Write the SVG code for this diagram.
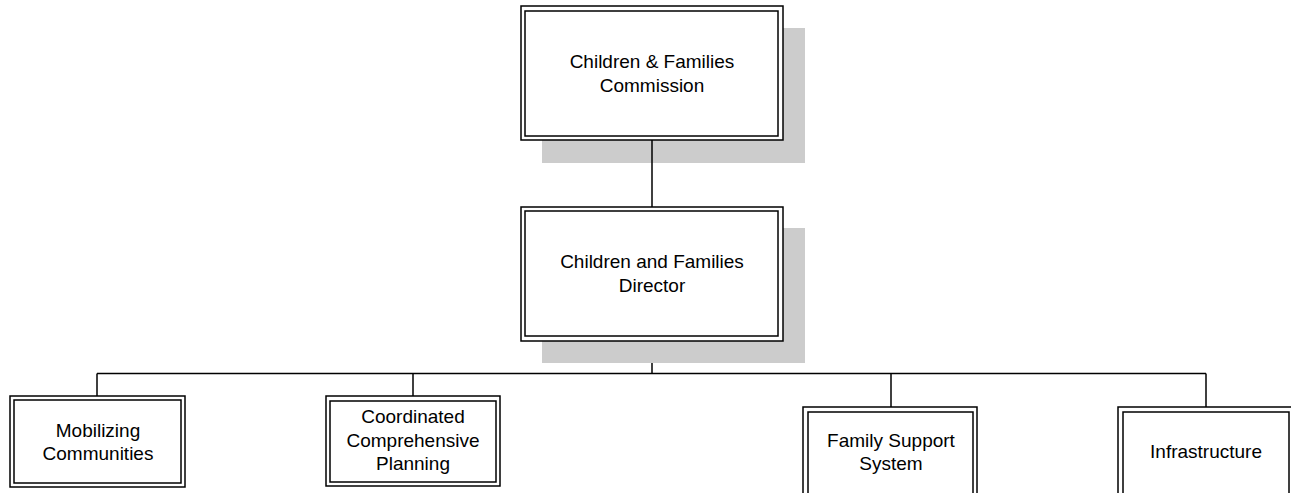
<svg xmlns="http://www.w3.org/2000/svg" width="1291" height="493" viewBox="0 0 1291 493">
<style>
.bg{fill:#ffffff}
.sh{fill:#cccccc;stroke:none}
.o{fill:#ffffff;stroke:#000000;stroke-width:1.5}
.i{fill:none;stroke:#000000;stroke-width:1.5}
.c{fill:none;stroke:#000000;stroke-width:1.5}
text{font-family:"Liberation Sans",Arial,sans-serif;font-size:19px;fill:#000000;text-anchor:middle}
</style>
<rect class="bg" x="0" y="0" width="1291" height="493"/>
<rect class="sh" x="542" y="28" width="263" height="135"/>
<rect class="sh" x="542" y="228" width="263" height="135"/>
<g id="connectors">
<path class="c" d="M652 140 V207"/>
<path class="c" d="M652 363 V373.5"/>
<path class="c" d="M97 373.5 H1206"/>
<path class="c" d="M97 373.5 V396"/>
<path class="c" d="M413 373.5 V396"/>
<path class="c" d="M891 373.5 V407"/>
<path class="c" d="M1206 373.5 V407"/>
</g>
<g id="commission">
<rect class="o" x="521" y="6" width="262" height="134"/>
<rect class="i" x="525" y="11" width="253" height="125"/>
<text x="652" y="68">Children &amp; Families</text>
<text x="652" y="92">Commission</text>
</g>
<g id="director">
<rect class="o" x="521" y="207" width="262" height="134"/>
<rect class="i" x="525" y="211" width="253" height="125"/>
<text x="652" y="268">Children and Families</text>
<text x="652" y="292">Director</text>
</g>
<g id="mobilizing">
<rect class="o" x="10" y="396" width="175" height="91"/>
<rect class="i" x="14" y="400" width="167" height="83"/>
<text x="98" y="437">Mobilizing</text>
<text x="98" y="460">Communities</text>
</g>
<g id="coordinated">
<rect class="o" x="326" y="396" width="174" height="90"/>
<rect class="i" x="330" y="401" width="166" height="81"/>
<text x="413" y="423">Coordinated</text>
<text x="413" y="447">Comprehensive</text>
<text x="413" y="470">Planning</text>
</g>
<g id="family">
<rect class="o" x="803" y="407" width="174" height="95"/>
<rect class="i" x="808" y="412" width="165" height="90"/>
<text x="891" y="447">Family Support</text>
<text x="891" y="470">System</text>
</g>
<g id="infrastructure">
<rect class="o" x="1118" y="407" width="178" height="95"/>
<rect class="i" x="1123" y="412" width="166" height="90"/>
<text x="1206" y="458">Infrastructure</text>
</g>
</svg>
